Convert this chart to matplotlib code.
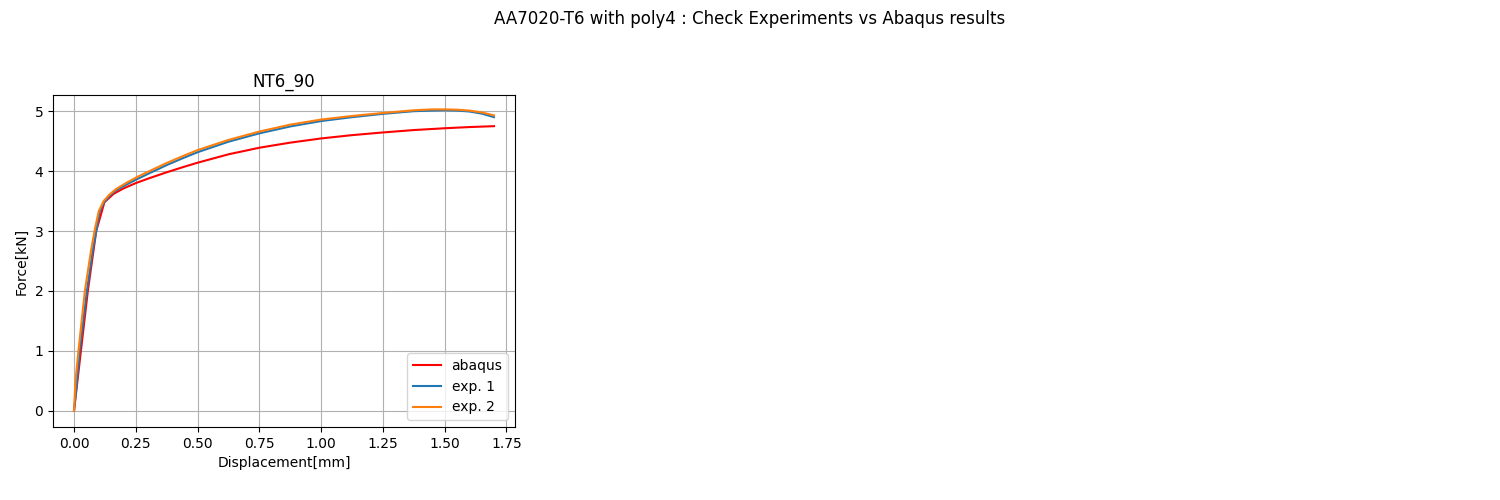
import matplotlib
matplotlib.use("Agg")
import matplotlib.pyplot as plt

abaqus_x = [0, 0.028, 0.056, 0.09, 0.123, 0.16, 0.2, 0.25, 0.3, 0.375, 0.44, 0.5, 0.625, 0.75, 0.875, 1.0, 1.125, 1.25, 1.375, 1.5, 1.6, 1.7]
abaqus_y = [0, 1.0, 2.0, 3.0, 3.48, 3.62, 3.71, 3.80, 3.875, 3.98, 4.065, 4.14, 4.28, 4.39, 4.475, 4.545, 4.60, 4.645, 4.685, 4.715, 4.735, 4.75]

exp1_x = [0, 0.01, 0.023, 0.052, 0.075, 0.09, 0.103, 0.12, 0.144, 0.17, 0.21, 0.25, 0.3, 0.375, 0.44, 0.5, 0.625, 0.75, 0.875, 1.0, 1.125, 1.25, 1.375, 1.45, 1.5, 1.55, 1.6, 1.65, 1.7]
exp1_y = [0, 0.4, 1.0, 2.0, 2.65, 3.0, 3.31, 3.47, 3.59, 3.68, 3.77, 3.855, 3.955, 4.10, 4.215, 4.315, 4.49, 4.63, 4.745, 4.835, 4.90, 4.955, 5.0, 5.01, 5.015, 5.01, 4.995, 4.96, 4.90]

exp2_x = [0, 0.006, 0.018, 0.044, 0.068, 0.083, 0.1, 0.12, 0.144, 0.17, 0.21, 0.25, 0.3, 0.375, 0.44, 0.5, 0.625, 0.75, 0.875, 1.0, 1.125, 1.25, 1.375, 1.45, 1.5, 1.55, 1.6, 1.65, 1.7]
exp2_y = [0, 0.5, 1.0, 2.0, 2.65, 3.0, 3.33, 3.5, 3.61, 3.70, 3.80, 3.89, 3.99, 4.135, 4.25, 4.35, 4.52, 4.66, 4.775, 4.86, 4.92, 4.97, 5.015, 5.03, 5.03, 5.025, 5.01, 4.98, 4.93]

fig = plt.figure(figsize=(15, 5), dpi=100)
ax = fig.add_axes([53/1500, 73/500, 462/1500, 332/500])
ax.plot(abaqus_x, abaqus_y, color="red", label="abaqus")
ax.plot(exp1_x, exp1_y, color="#1f77b4", label="exp. 1")
ax.plot(exp2_x, exp2_y, color="#ff7f0e", label="exp. 2")
ax.set_title("NT6_90")
ax.set_xlabel("Displacement[mm]")
ax.set_ylabel("Force[kN]")
ax.set_xticks([0, 0.25, 0.5, 0.75, 1.0, 1.25, 1.5, 1.75])
ax.set_xticklabels(["0.00", "0.25", "0.50", "0.75", "1.00", "1.25", "1.50", "1.75"])
ax.set_xlim(-0.085, 1.785)
ax.set_ylim(-0.27, 5.27)
ax.grid(True)
ax.legend(loc="lower right")
fig.suptitle("AA7020-T6 with poly4 : Check Experiments vs Abaqus results")
fig.savefig("out.png", dpi=100)
